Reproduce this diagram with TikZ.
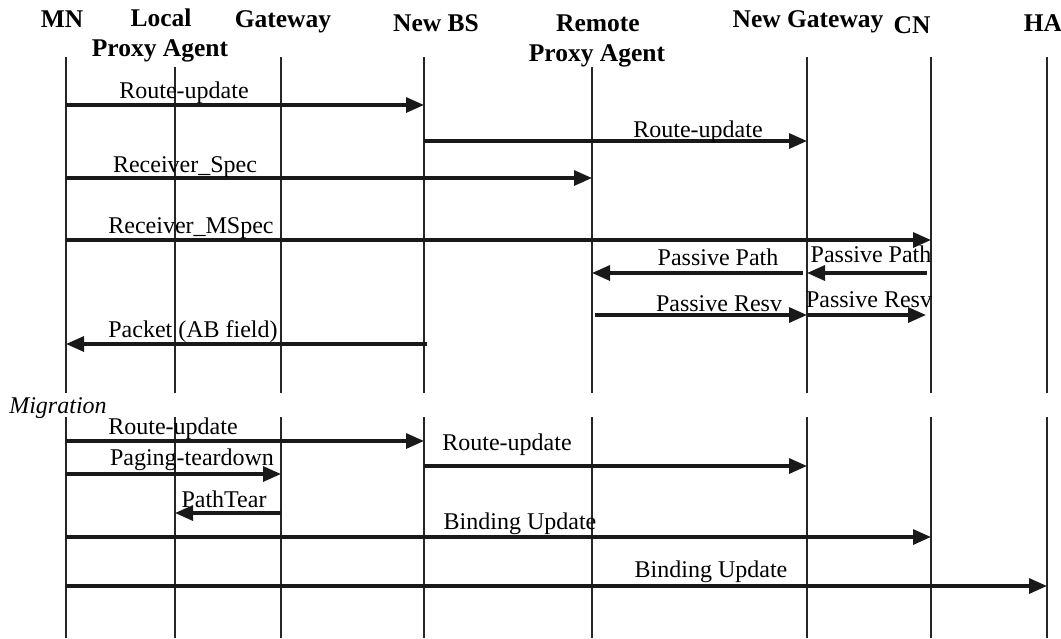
\documentclass[tikz,border=0pt]{standalone}
\usepackage{fontspec}
\setmainfont{Liberation Serif}
\usetikzlibrary{arrows.meta}
\begin{document}
\begin{tikzpicture}[x=1pt,y=-1pt,
  hdr/.style={font=\fontsize{25.5}{28}\selectfont\bfseries, inner sep=0pt, anchor=base},
  lbl/.style={font=\fontsize{24}{26}\selectfont, inner sep=0pt, anchor=base},
  life/.style={line width=1.2pt, black!85},
  msg/.style={line width=3.2pt, black!90, -{Triangle[length=18pt,width=15pt]}}]
\useasboundingbox[fill=white] (0,0) rectangle (1061,638);
% lifelines
\foreach \n/\x/\t in {mn/66/57, lpa/175/67, gw/281/57, bs/424/57, rpa/592/67, ng/807/57, cn/931/57, ha/1047/57}{
  \coordinate (\n) at (\x,0);
  \draw[life] (\x,\t) -- (\x,393);
  \draw[life] (\x,417) -- (\x,638);
}
% headers
\node[hdr] (hMN) at (62,27) {MN};
\node[hdr] (hLocal) at (161,26) {Local};
\node[hdr] (hLPA) at (160,56) {Proxy Agent};
\node[hdr] (hGW) at (283,27) {Gateway};
\node[hdr] (hBS) at (436,31) {New BS};
\node[hdr] (hRem) at (598,31) {Remote};
\node[hdr] (hRPA) at (597,61) {Proxy Agent};
\node[hdr] (hNG) at (808,27) {New Gateway};
\node[hdr] (hCN) at (912,33) {CN};
\node[hdr] (hHA) at (1043,31) {HA};
% messages
\draw[msg] (mn |- 0,105) -- (bs |- 0,105);
\node[lbl] (l1) at (184,98) {Route-update};
\draw[msg] (bs |- 0,141) -- (ng |- 0,141);
\node[lbl] (l2) at (698,137) {Route-update};
\draw[msg] (mn |- 0,178) -- (rpa |- 0,178);
\node[lbl] (l3) at (185,172) {Receiver\_Spec};
\draw[msg] (mn |- 0,240) -- (cn |- 0,240);
\node[lbl] (l4) at (191,233) {Receiver\_MSpec};
\draw[msg] ([xshift=-4pt]ng |- 0,273) -- (rpa |- 0,273);
\node[lbl] (l5) at (718,265) {Passive Path};
\draw[msg] ([xshift=-4pt]cn |- 0,273) -- (ng |- 0,273);
\node[lbl] (l6) at (871,262) {Passive Path};
\draw[msg] ([xshift=3pt]rpa |- 0,315) -- (ng |- 0,315);
\node[lbl] (l7) at (719,311) {Passive Resv};
\draw[msg] (ng |- 0,315) -- ([xshift=-5pt]cn |- 0,315);
\node[lbl] (l8) at (869,307) {Passive Resv};
\draw[msg] ([xshift=3pt]bs |- 0,344) -- (mn |- 0,344);
\node[lbl] (l9) at (193,337) {Packet (AB field)};
% migration
\node[lbl, font=\fontsize{24}{26}\selectfont\itshape] (mig) at (58,413) {Migration};
\draw[msg] (mn |- 0,441) -- (bs |- 0,441);
\node[lbl] (l10) at (173,434) {Route-update};
\draw[msg] (bs |- 0,466) -- (ng |- 0,466);
\node[lbl] (l11) at (507,450) {Route-update};
\draw[msg] (mn |- 0,474) -- (gw |- 0,474);
\node[lbl] (l12) at (192,465) {Paging-teardown};
\draw[msg] (gw |- 0,513) -- (lpa |- 0,513);
\node[lbl] (l13) at (224,507) {PathTear};
\draw[msg] (mn |- 0,537) -- (cn |- 0,537);
\node[lbl] (l14) at (520,529) {Binding Update};
\draw[msg] (mn |- 0,586) -- (ha |- 0,586);
\node[lbl] (l15) at (711,577) {Binding Update};
\end{tikzpicture}
\end{document}
